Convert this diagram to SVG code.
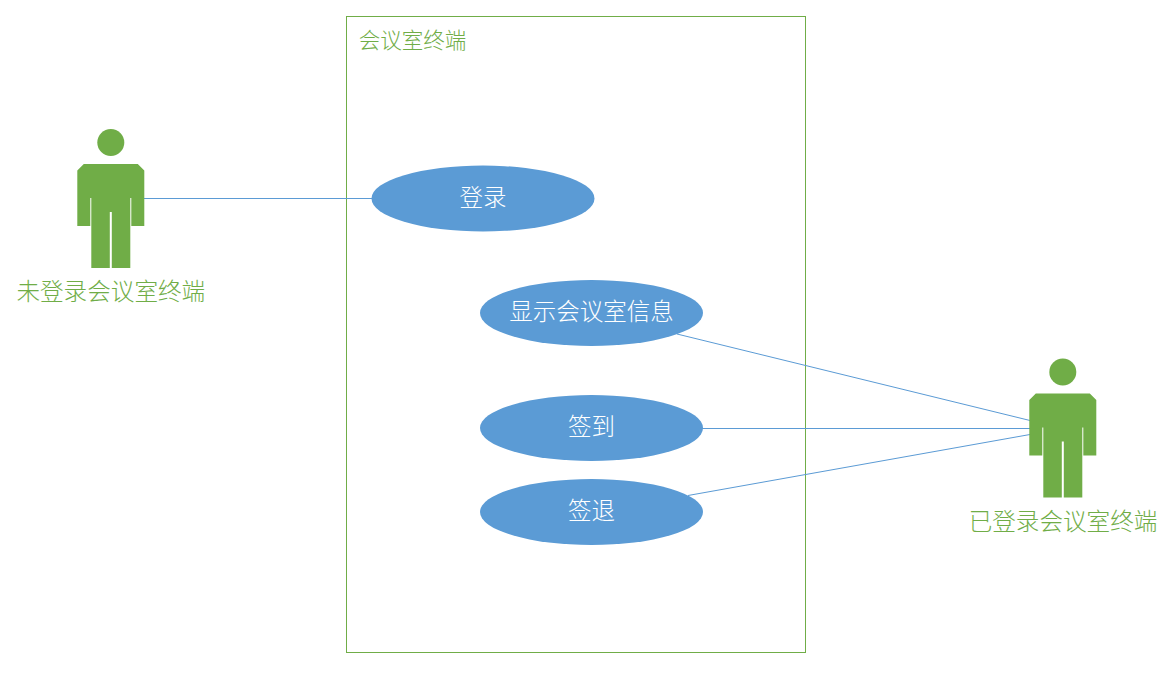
<svg xmlns="http://www.w3.org/2000/svg" width="1166" height="675" viewBox="0 0 1166 675">
<defs>
<g id="person">
<circle cx="33.5" cy="13.5" r="13.5" fill="#70ad47"/>
<path d="M6.500 35 H60.500 L67 41.500 V97 H54 V69 H53 V139 H34.500 V83 H32.500 V139 H14 V69 H13 V97 H0 V41.500 Z" fill="#70ad47"/>
</g>
</defs>
<style>
text{font-family:"Noto Sans CJK SC","Liberation Serif",serif;font-weight:300}
.a{fill:#70ad47;text-anchor:middle}
.u{fill:#5b9bd5}
.w{fill:#fff;text-anchor:middle;font-size:23.500px}
.c{fill:none;stroke:#5b9bd5;stroke-width:1}
</style>
<rect width="1166" height="675" fill="#fff"/>
<g id="system">
<rect x="346.500" y="16.500" width="459" height="636" fill="#fff" stroke="#70ad47" stroke-width="1"/>
<text class="a" x="412.500" y="48" font-size="21.500">会议室终端</text>
</g>
<g id="connectors">
<line class="c" x1="144" y1="198.500" x2="372" y2="198.500"/>
<line class="c" x1="677" y1="334" x2="1030" y2="420.500"/>
<line class="c" x1="702" y1="428.500" x2="1030" y2="428.500"/>
<line class="c" x1="688" y1="495.500" x2="1030" y2="434.500"/>
</g>
<g id="actor-guest">
<use href="#person" x="77.300" y="129"/>
<text class="a" x="110.800" y="300" font-size="23.600">未登录会议室终端</text>
</g>
<g id="actor-user">
<use href="#person" x="1029.300" y="358.500"/>
<text class="a" x="1063" y="530" font-size="23.600">已登录会议室终端</text>
</g>
<g id="uc-login">
<ellipse class="u" cx="483" cy="198.500" rx="111.500" ry="33"/>
<text class="w" x="483" y="206">登录</text>
</g>
<g id="uc-info">
<ellipse class="u" cx="591.500" cy="313" rx="111.500" ry="33"/>
<text class="w" x="591.500" y="320">显示会议室信息</text>
</g>
<g id="uc-signin">
<ellipse class="u" cx="591.500" cy="428" rx="111.500" ry="33"/>
<text class="w" x="591.500" y="435">签到</text>
</g>
<g id="uc-signout">
<ellipse class="u" cx="591.500" cy="512" rx="111.500" ry="33"/>
<text class="w" x="591.500" y="519">签退</text>
</g>
</svg>
